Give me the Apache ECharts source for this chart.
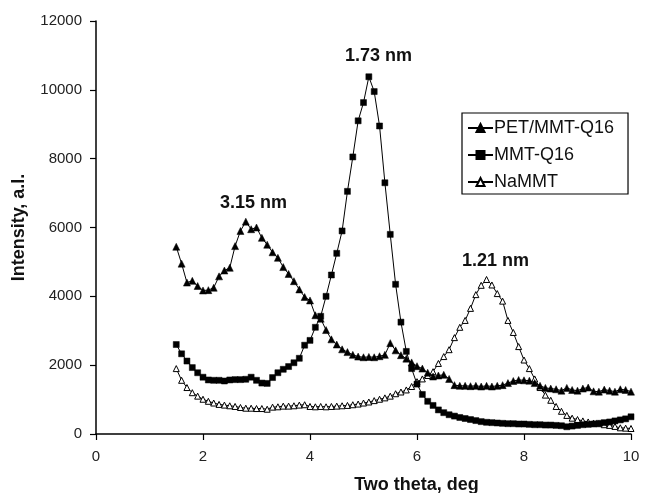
<!DOCTYPE html>
<html>
<head>
<meta charset="utf-8">
<script src="https://cdn.jsdelivr.net/npm/echarts@6/dist/echarts.min.js"></script>
<style>html,body{margin:0;padding:0;background:#fff}#c{width:645px;height:493px}</style>
</head>
<body>
<div id="c"></div>
<script>
var twoTheta = [1.5,1.6,1.7,1.8,1.9,2.0,2.1,2.2,2.3,2.4,2.5,2.6,2.7,2.8,2.9,3.0,3.1,3.2,3.3,3.4,3.5,3.6,3.7,3.8,3.9,4.0,4.1,4.2,4.3,4.4,4.5,4.6,4.7,4.8,4.9,5.0,5.1,5.2,5.3,5.4,5.5,5.6,5.7,5.8,5.9,6.0,6.1,6.2,6.3,6.4,6.5,6.6,6.7,6.8,6.9,7.0,7.1,7.2,7.3,7.4,7.5,7.6,7.7,7.8,7.9,8.0,8.1,8.2,8.3,8.4,8.5,8.6,8.7,8.8,8.9,9.0,9.1,9.2,9.3,9.4,9.5,9.6,9.7,9.8,9.9,10.0];

var petMmtQ16 = [5440,4950,4400,4450,4300,4170,4180,4250,4580,4750,4830,5460,5900,6170,5950,6000,5700,5500,5280,5120,4850,4650,4440,4200,3980,3880,3450,3350,3020,2750,2600,2460,2380,2300,2250,2230,2240,2230,2260,2300,2640,2430,2290,2190,2080,1970,1900,1780,1670,1700,1720,1600,1420,1400,1400,1390,1400,1380,1400,1380,1400,1420,1480,1540,1570,1560,1550,1480,1400,1340,1320,1300,1260,1340,1280,1260,1320,1350,1240,1230,1290,1260,1230,1300,1280,1230];

var mmtQ16 = [2600,2330,2120,1930,1780,1650,1570,1560,1560,1540,1570,1580,1580,1590,1650,1560,1480,1470,1640,1780,1880,1960,2070,2200,2580,2720,3100,3420,4000,4620,5250,5900,7050,8050,9100,9630,10380,9950,8950,7300,5800,4350,3250,2400,1900,1450,1150,950,830,700,620,560,520,480,450,420,390,360,340,330,320,310,300,300,290,290,280,270,270,260,260,250,240,210,230,250,270,280,290,310,330,350,380,410,440,500];

var naMmt = [1900,1560,1350,1200,1100,1010,950,900,860,840,820,800,770,750,750,740,740,720,780,790,810,810,820,840,850,800,790,800,790,800,810,820,830,850,870,900,930,970,1010,1050,1100,1170,1220,1280,1380,1520,1600,1700,1810,2050,2250,2450,2800,3100,3300,3650,4050,4320,4490,4330,4080,3860,3300,2950,2540,2150,1900,1600,1350,1130,980,800,660,540,460,420,380,350,320,300,270,250,220,180,170,160];

var seriesNames = ['PET/MMT-Q16', 'MMT-Q16', 'NaMMT'];
var peakLabels = ['3.15 nm', '1.73 nm', '1.21 nm'];

function pairs(ys) { return twoTheta.map(function (x, i) { return [x, ys[i]]; }); }

var chart = echarts.init(document.getElementById('c'));
var font = 'Liberation Sans, Arial, sans-serif';
chart.setOption({
  animation: false,
  backgroundColor: '#fff',
  grid: { left: 96, right: 14, top: 21, bottom: 59, containLabel: false, outerBoundsMode: 'none' },
  xAxis: {
    type: 'value', min: 0, max: 10, interval: 2,
    name: 'Two theta, deg', nameLocation: 'middle', nameGap: 42,
    nameTextStyle: { fontFamily: font, fontSize: 18, fontWeight: 'bold', color: '#111', padding: [0, 0, 0, 106] },
    axisLine: { show: true, lineStyle: { color: '#000', width: 1.5 } },
    axisTick: { show: true, inside: false, length: 6, lineStyle: { color: '#000', width: 1.2 } },
    axisLabel: { fontFamily: font, fontSize: 15, color: '#222', margin: 15 },
    splitLine: { show: false }
  },
  yAxis: {
    type: 'value', min: 0, max: 12000, interval: 2000,
    name: 'Intensity, a.l.', nameLocation: 'middle', nameGap: 68, nameRotate: 90,
    nameTextStyle: { fontFamily: font, fontSize: 18, fontWeight: 'bold', color: '#111' },
    axisLine: { show: true, lineStyle: { color: '#000', width: 1.5 } },
    axisTick: { show: true, inside: false, length: 6, lineStyle: { color: '#000', width: 1.2 } },
    axisLabel: { fontFamily: font, fontSize: 15, color: '#222', margin: 14, formatter: function (v) { return String(v); } },
    splitLine: { show: false }
  },
  legend: {
    orient: 'vertical', left: 462, top: 113,
    padding: [6, 14, 3, 5], itemGap: 9, itemWidth: 25, itemHeight: 10,
    backgroundColor: '#fff', borderColor: '#000', borderWidth: 1.2, borderRadius: 0,
    textStyle: { fontFamily: font, fontSize: 18, color: '#111', padding: [0, 0, 0, -4] },
    data: seriesNames
  },
  series: [
    {
      name: seriesNames[0], type: 'line', data: pairs(petMmtQ16),
      symbol: 'triangle', symbolSize: 7, showAllSymbol: true,
      lineStyle: { color: '#000', width: 1 },
      itemStyle: { color: '#000', borderColor: '#000', borderWidth: 0.5 },
      z: 3
    },
    {
      name: seriesNames[1], type: 'line', data: pairs(mmtQ16),
      symbol: 'rect', symbolSize: 6, showAllSymbol: true,
      lineStyle: { color: '#000', width: 1 },
      itemStyle: { color: '#000', borderColor: '#000', borderWidth: 0.5 },
      z: 4
    },
    {
      name: seriesNames[2], type: 'line', data: pairs(naMmt),
      symbol: 'triangle', symbolSize: 6, showAllSymbol: true,
      lineStyle: { color: '#000', width: 1 },
      itemStyle: { color: '#fff', borderColor: '#000', borderWidth: 1 },
      z: 2
    }
  ],
  graphic: [
    { type: 'text', left: 220, top: 194, style: { text: peakLabels[0], font: 'bold 18px ' + font, fill: '#111' } },
    { type: 'text', left: 345, top: 47, style: { text: peakLabels[1], font: 'bold 18px ' + font, fill: '#111' } },
    { type: 'text', left: 462, top: 252, style: { text: peakLabels[2], font: 'bold 18px ' + font, fill: '#111' } }
  ]
});
</script>
</body>
</html>
